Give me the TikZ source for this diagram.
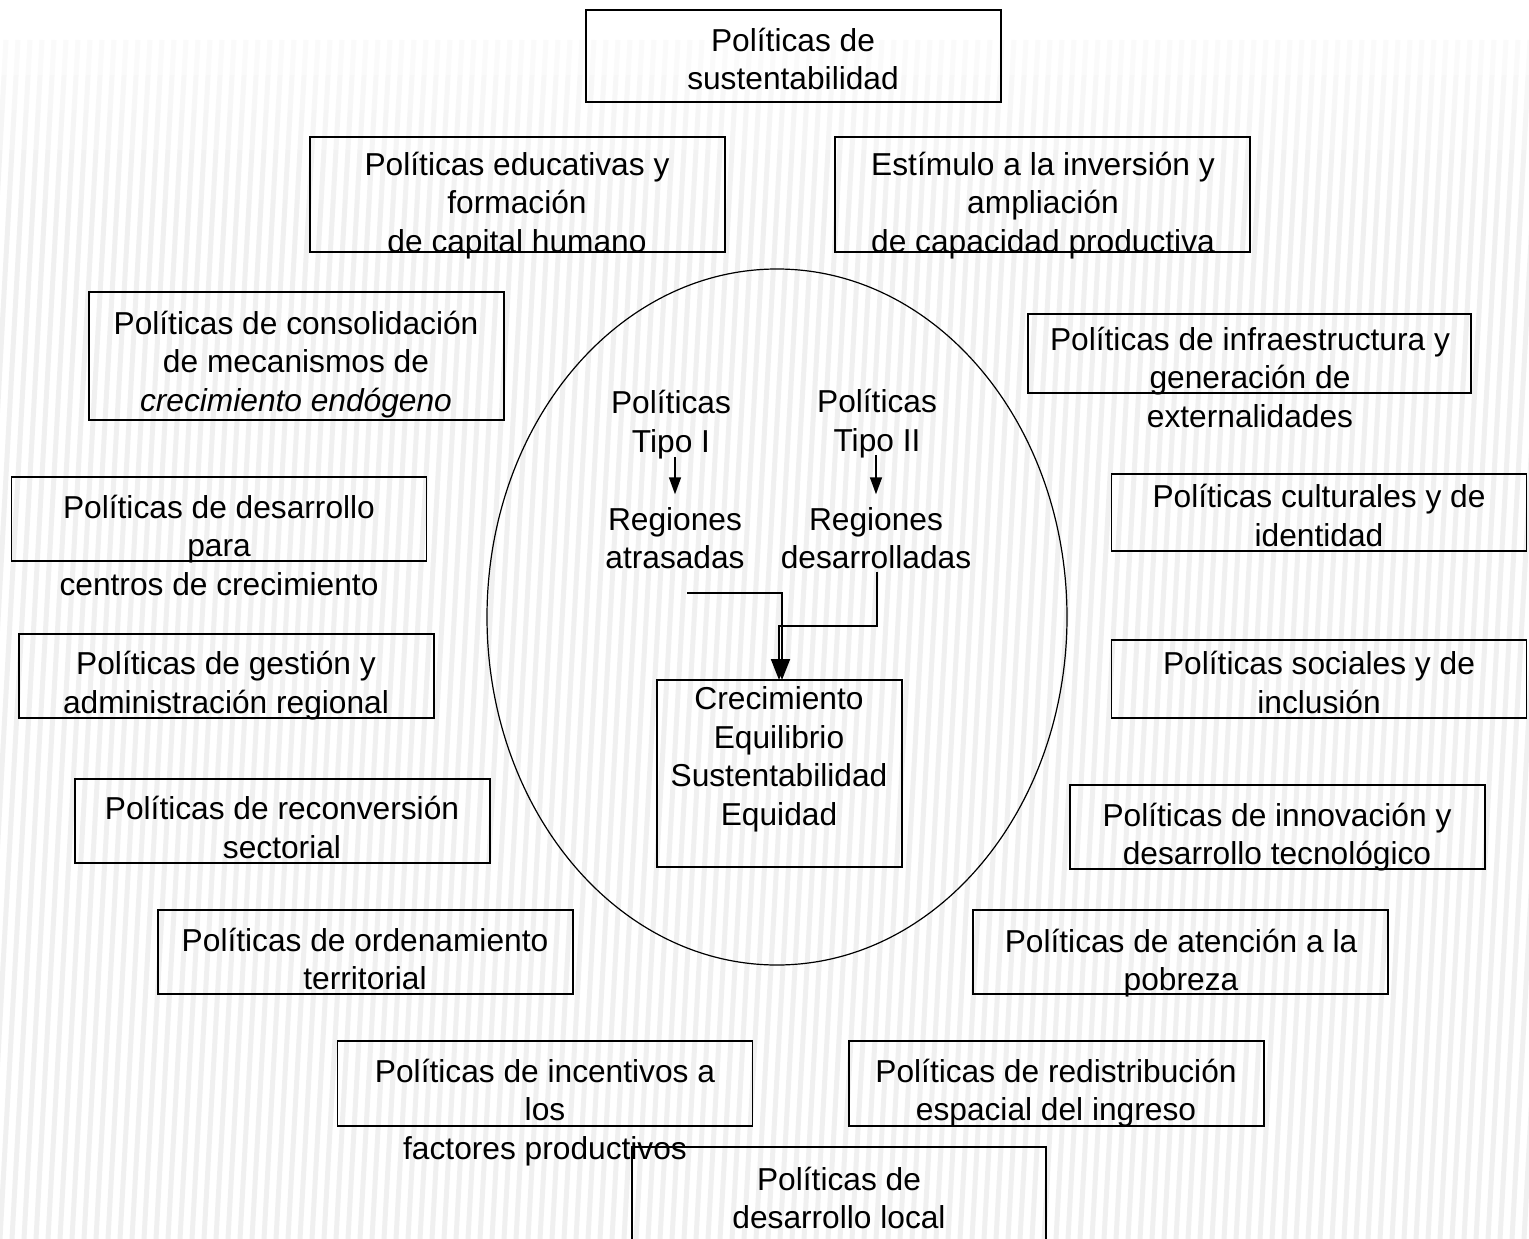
\documentclass[tikz,border=0pt]{standalone}
\usepackage{fontspec}
\setmainfont{Liberation Sans}
\usetikzlibrary{arrows.meta}
\begin{document}
\begin{tikzpicture}[x=1pt,y=-1pt,
  font=\fontsize{31.7}{38.5}\selectfont,
  box/.style={draw, line width=1.5pt, inner sep=0pt, minimum width=415pt},
  txt/.style={align=center, inner sep=0pt, yshift=-2pt, execute at begin node=\strut, execute at end node=\strut},
  arr/.style={line width=2pt, -{Triangle[length=21pt, width=16pt]}},
  sarr/.style={line width=1.5pt, -{Triangle[length=17pt, width=12pt]}}]
\useasboundingbox (0,0) rectangle (1529,1239);
\clip (0,0) rectangle (1529,1239);
\fill[white] (0,0) rectangle (1529,1239);
% background stripes, fading towards the top
\foreach \ya/\yb/\c in {1239/200/6, 200/150/5, 150/110/4, 110/75/3, 75/40/2} {
  \foreach \i in {-10,...,130} {
    \draw[draw=black!\c, line width=5pt]
      ({\i*12+0.05505*(1239-\ya)},\ya) -- ({\i*12+0.05505*(1239-\yb)},\yb);
  }
}
% outer boxes
\node[box, minimum height=92pt] (b1) at (793.5,56) {};
\node[txt] (t1) at (793,62.5) {Políticas de\\sustentabilidad};
\node[box, minimum height=115pt] (b2) at (517.5,194.5) {};
\node[txt] (t2) at (517,206) {Políticas educativas y\\formación\\de capital humano};
\node[box, minimum height=115pt] (b3) at (1042.5,194.5) {};
\node[txt] (t3) at (1043,206) {Estímulo a la inversión y\\ampliación\\de capacidad productiva};
\node[box, minimum height=128pt] (b4) at (296.5,356) {};
\node[txt] (t4) at (296,365) {Políticas de consolidación\\de mecanismos de\\{\itshape crecimiento endógeno}};
\node[box, minimum width=443pt, minimum height=79pt] (b5) at (1249.5,353.5) {};
\node[txt] (t5) at (1250,381) {Políticas de infraestructura y\\generación de\\externalidades};
\node[box, minimum height=84pt] (b6) at (219,519) {};
\node[txt] (t6) at (219,549) {Políticas de desarrollo\\para\\centros de crecimiento};
\node[box, minimum height=77pt] (b7) at (1319,512.5) {};
\node[txt] (t7) at (1319,519) {Políticas culturales y de\\identidad};
\node[box, minimum height=84pt] (b8) at (226.5,676) {};
\node[txt] (t8) at (226,686) {Políticas de gestión y\\administración regional};
\node[box, minimum height=78pt] (b9) at (1319,679) {};
\node[txt] (t9) at (1319,686) {Políticas sociales y de\\inclusión};
\node[box, minimum height=84pt] (b10) at (282.5,821) {};
\node[txt] (t10) at (282,831) {Políticas de reconversión\\sectorial};
\node[box, minimum height=84pt] (b11) at (1277.5,827) {};
\node[txt] (t11) at (1277,837.5) {Políticas de innovación y\\desarrollo tecnológico};
\node[box, minimum height=84pt] (b12) at (365.5,952) {};
\node[txt] (t12) at (365,962.5) {Políticas de ordenamiento\\territorial};
\node[box, minimum height=84pt] (b13) at (1180.5,952) {};
\node[txt] (t13) at (1181,963.5) {Políticas de atención a la\\pobreza};
\node[box, minimum height=85pt] (b14) at (545,1083.5) {};
\node[txt] (t14) at (545,1113) {Políticas de incentivos a\\los\\factores productivos};
\node[box, minimum height=85pt] (b15) at (1056.5,1083.5) {};
\node[txt] (t15) at (1056,1093.5) {Políticas de redistribución\\espacial del ingreso};
\node[box, minimum width=414pt, minimum height=110pt] (b16) at (839,1202) {};
\node[txt] (t16) at (839,1201.5) {Políticas de\\desarrollo local};
% central ellipse
\draw[line width=1.2pt] (777,617) ellipse [x radius=290, y radius=348];
\node[txt] (p1) at (671,425) {Políticas\\Tipo I};
\node[txt] (r1) at (675,542) {Regiones\\atrasadas};
\node[txt] (p2) at (877,424) {Políticas\\Tipo II};
\node[txt] (r2) at (876,542) {Regiones\\desarrolladas};
\node[box, minimum width=245pt, minimum height=187pt] (cb) at (779.5,773.5) {};
\node[txt] (ct) at (779,760) {Crecimiento\\Equilibrio\\Sustentabilidad\\Equidad};
\coordinate (c1) at (687,593);
\coordinate (c2) at (877,626);
\coordinate (j1) at (782,680);
\coordinate (j2) at (779,680);
\draw[sarr, shorten <=-7pt, shorten >=13pt] (p1.south -| r1.north) -- (r1.north);
\draw[sarr, shorten <=-8pt, shorten >=13pt] (p2.south -| r2.north) -- (r2.north);
\draw[arr] (c1) -| (j1);
\draw[arr, shorten <=-9pt] (r2.south -| c2) -- (c2) -| (j2);
\end{tikzpicture}
\end{document}
